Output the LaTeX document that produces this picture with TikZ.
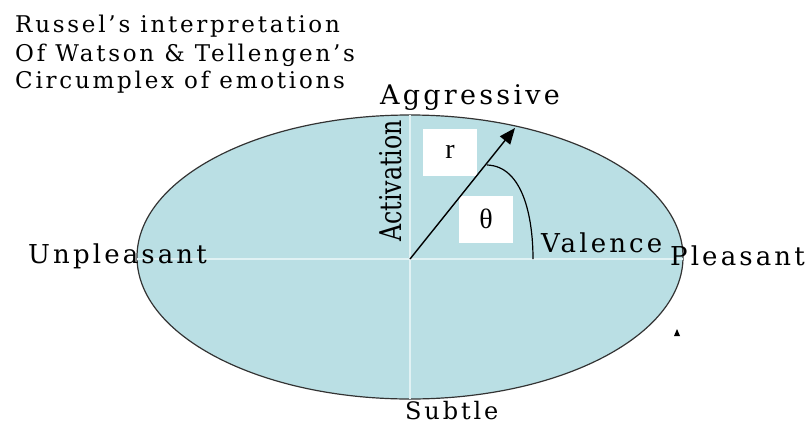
\documentclass[tikz,border=0pt]{standalone}
\usepackage{fontspec}
\setmainfont{Liberation Serif}
\newfontfamily\labfont[LetterSpace=12]{DejaVu Serif}
\newfontfamily\actfont{DejaVu Serif}
\usetikzlibrary{arrows.meta}
\definecolor{ellfill}{RGB}{186,223,228}
\definecolor{axiscol}{RGB}{225,242,244}
\begin{document}
\begin{tikzpicture}[x=1pt,y=-1pt,
  lab/.style={font=\labfont\fontsize{26}{28}\selectfont, inner sep=0pt, anchor=base west},
  ttl/.style={font=\labfont\fontsize{23}{24}\selectfont, inner sep=0pt, anchor=base west},
  wbox/.style={fill=white, draw=none, minimum width=54pt, minimum height=47pt, inner sep=0pt, font=\fontsize{28}{30}\selectfont}]
\useasboundingbox (0,0) rectangle (809,426);
% ellipse
\filldraw[fill=ellfill, draw=black!80, line width=1.2pt] (410,257) ellipse [x radius=273, y radius=142];
% axes
\coordinate (hl) at (137,259);
\coordinate (hr) at (683,259);
\coordinate (vt) at (410,115);
\coordinate (vb) at (410,399);
\draw[axiscol, line width=2.5pt] (hl) -- (hr);
\draw[axiscol, line width=2.5pt] (vt) -- (vb);
% title
\node[ttl] (t1) at (15,32) {Russel’s interpretation};
\node[ttl] (t2) at (15,61) {Of Watson \& Tellengen’s};
\node[ttl] (t3) at (15,88) {Circumplex of emotions};
% labels
\node[lab, font=\labfont\fontsize{27}{28}\selectfont] (agg) at (380,104) {Aggressive};
\node[lab] (unp) at (28,263) {Unpleasant};
\node[lab] (ple) at (670,265) {Pleasant};
\node[lab] (val) at (541,252) {Valence};
\node[lab, font=\labfont\fontsize{24}{26}\selectfont] (sub) at (405,419) {Subtle};
\node[lab, font=\actfont\fontsize{30}{30}\selectfont, rotate=90] (act) at (401,242) {\scalebox{0.79}[1]{Activation}};
% boxes
\node[wbox] (rbox) at (450,152) {r};
\node[wbox] (tbox) at (486,219) {θ};
% arrow
\coordinate (o) at (410,259);
\coordinate (tip) at (515,128);
\draw[-{Triangle[length=16pt,width=13pt]}, line width=1.4pt] (o) -- (tip);
% angle arc
\coordinate (a1) at (487,165);
\coordinate (a2) at (533,259);
\draw[line width=1.2pt] (a1) .. controls (522,166) and (533,215) .. (a2);
% small mark
\fill (674,336) -- (677,329) -- (680,336) -- cycle;
\end{tikzpicture}
\end{document}
